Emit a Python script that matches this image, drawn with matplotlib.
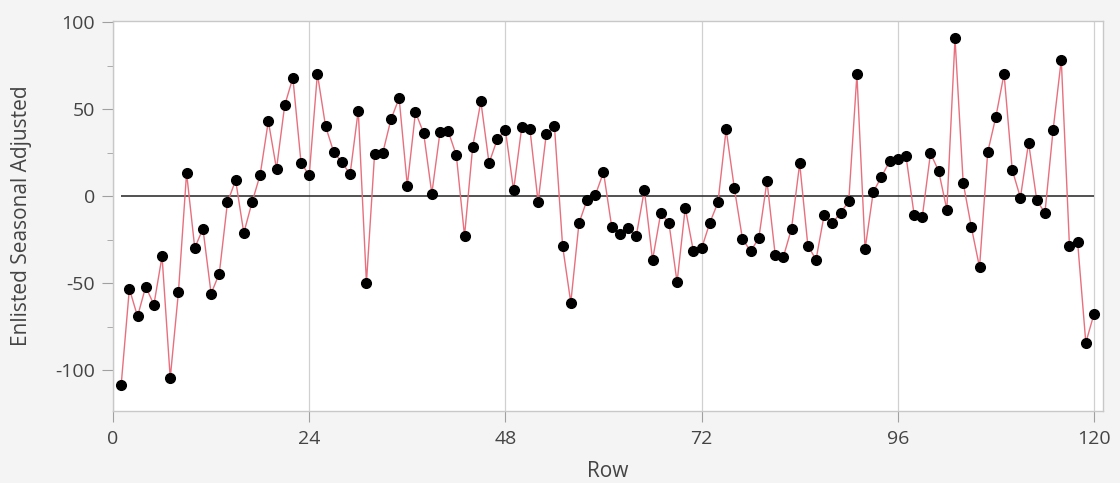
import matplotlib
matplotlib.use("Agg")
import matplotlib.pyplot as plt
import numpy as np
from matplotlib.ticker import MultipleLocator

plt.rcParams['font.family'] = ['Open Sans', 'DejaVu Sans']
plt.rcParams['axes.unicode_minus'] = False

# Werte (Zeile 1..120)
rows = np.arange(1, 121)
adjusted = [
    -108.2, -53.1, -69.0, -51.9, -62.3, -34.5, -104.4, -55.2, 13.4, -29.7,
    -18.6, -55.9, -44.4, -3.6, 9.2, -21.1, -3.6, 12.3, 43.1, 15.7,
    52.1, 68.0, 19.3, 11.9, 70.3, 40.2, 25.3, 19.5, 12.6, 49.2,
    -49.8, 24.5, 24.9, 44.1, 56.3, 6.1, 48.3, 36.2, 1.5, 36.8,
    37.4, 23.4, -22.8, 28.5, 54.4, 19.0, 32.6, 38.1, 3.4, 39.7,
    38.5, -3.3, 35.6, 40.2, -28.7, -61.1, -15.5, -1.9, 0.6, 13.8,
    -17.4, -21.5, -18.4, -23.0, 3.6, -36.6, -9.8, -15.1, -49.4, -6.7,
    -31.6, -30.0, -15.3, -3.6, 38.3, 4.8, -24.5, -31.6, -24.0, 8.6,
    -33.5, -34.9, -18.6, 18.8, -28.4, -36.4, -10.5, -15.3, -9.6, -2.9,
    69.9, -30.3, 2.5, 11.1, 20.1, 21.6, 23.2, -10.7, -11.7, 24.7,
    14.4, -7.7, 90.6, 7.7, -17.8, -40.8, 25.3, 45.6, 70.3, 15.1,
    -0.8, 30.7, -2.3, -9.6, 38.1, 78.4, -28.7, -26.4, -84.1, -67.6,
]

xticks = [0, 24, 48, 72, 96, 120]
yticks = [-100, -50, 0, 50, 100]

BG = '#f4f4f4'
GRID = '#d0d0d0'
TXT = '#444444'

fig = plt.figure(figsize=(11.2, 4.83), dpi=100)
fig.patch.set_facecolor(BG)
ax = fig.add_axes([0.1009, 0.149, 0.8839, 0.8076])
ax.set_facecolor('white')

ax.set_xlim(0, 121.1)
ax.set_ylim(-123.3, 100.6)

# Referenzlinie bei 0
ax.hlines(0, rows[0], rows[-1], color='#333333', linewidth=1.2, zorder=2)

ax.plot(rows, adjusted, color='#e8707e', linewidth=1.0, zorder=3)
ax.plot(rows, adjusted, 'o', color='black', markersize=7, zorder=4)

ax.set_xticks(xticks)
ax.set_yticks(yticks)
ax.yaxis.set_minor_locator(MultipleLocator(25))
ax.grid(axis='x', color=GRID, linewidth=0.9)
ax.set_axisbelow(True)

for s in ax.spines.values():
    s.set_color('#c8c8c8')
    s.set_linewidth(1.0)

ax.tick_params(axis='both', which='major', length=8, color='#a0a0a0',
               labelsize=14, labelcolor=TXT)
ax.tick_params(axis='x', which='major', pad=6)
ax.tick_params(axis='y', which='major', pad=5)
ax.tick_params(axis='y', which='minor', length=4, color='#a0a0a0')

ax.set_xlabel('Row', fontsize=15, color=TXT)
ax.set_ylabel('Enlisted Seasonal Adjusted', fontsize=15, color=TXT)
ax.xaxis.set_label_coords(0.5, -0.128)
ax.yaxis.set_label_coords(-0.082, 0.5)

plt.savefig('out.png', dpi=100, facecolor=BG)
plt.close()
